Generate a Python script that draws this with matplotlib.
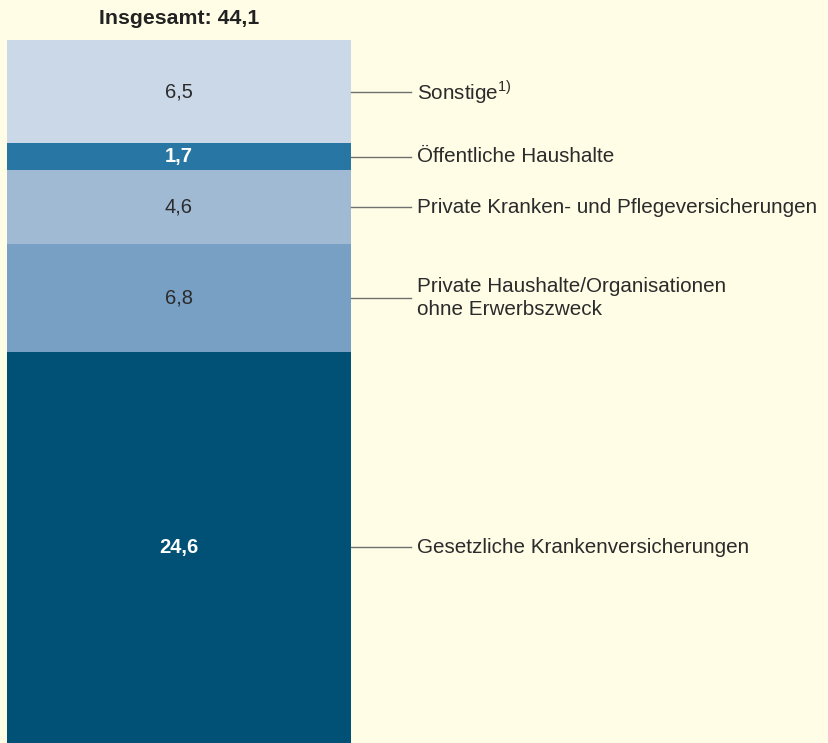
import matplotlib
matplotlib.use("Agg")
import matplotlib.pyplot as plt

# Finanzierung, Mrd. Euro (von unten nach oben)
categories = [
    "Gesetzliche Krankenversicherungen",
    "Private Haushalte/Organisationen\nohne Erwerbszweck",
    "Private Kranken- und Pflegeversicherungen",
    "Öffentliche Haushalte",
    "Sonstige$^{1)}$",
]
values = [24.6, 6.8, 4.6, 1.7, 6.5]
value_labels = ["24,6", "6,8", "4,6", "1,7", "6,5"]
total_label = "Insgesamt: 44,1"

colors = ["#005175", "#789fc4", "#a0bad4", "#2776a3", "#cad8e8"]
text_colors = ["white", "#2b2b2b", "#2b2b2b", "white", "#2b2b2b"]
bold = [True, False, False, True, False]

bg = "#fffde6"
plt.rcParams["font.family"] = ["Liberation Sans", "DejaVu Sans"]
plt.rcParams["mathtext.fontset"] = "custom"
plt.rcParams["mathtext.rm"] = "Liberation Sans"

fig = plt.figure(figsize=(8.29, 7.43), dpi=100, facecolor=bg)
ax = fig.add_axes([0, 0, 1, 1])
ax.set_facecolor(bg)
total = sum(values)
top = total * 743 / 703
ax.set_xlim(0, 829)
ax.set_ylim(0, top)
ax.axis("off")

bar_left, bar_w = 7, 344
bottom = 0
for v, c, lab, tc, b, cat in zip(values, colors, value_labels, text_colors, bold, categories):
    ax.bar(bar_left, v, width=bar_w, bottom=bottom, color=c, align="edge", linewidth=0)
    mid = bottom + v / 2
    ax.text(bar_left + bar_w / 2, mid, lab, ha="center", va="center", color=tc,
            fontsize=14.5, fontweight="bold" if b else "normal")
    ax.plot([bar_left + bar_w, 411], [mid, mid], color="#707070", lw=1)
    ax.text(417, mid, cat, ha="left", va="center", color="#2b2b2b", fontsize=14.9,
            linespacing=1.25)
    bottom += v

ax.text(bar_left + bar_w / 2, top * (1 - 18 / 743), total_label,
        ha="center", va="center", fontsize=15.3, fontweight="bold", color="#222222")

fig.savefig("out.png", dpi=100, facecolor=bg)
